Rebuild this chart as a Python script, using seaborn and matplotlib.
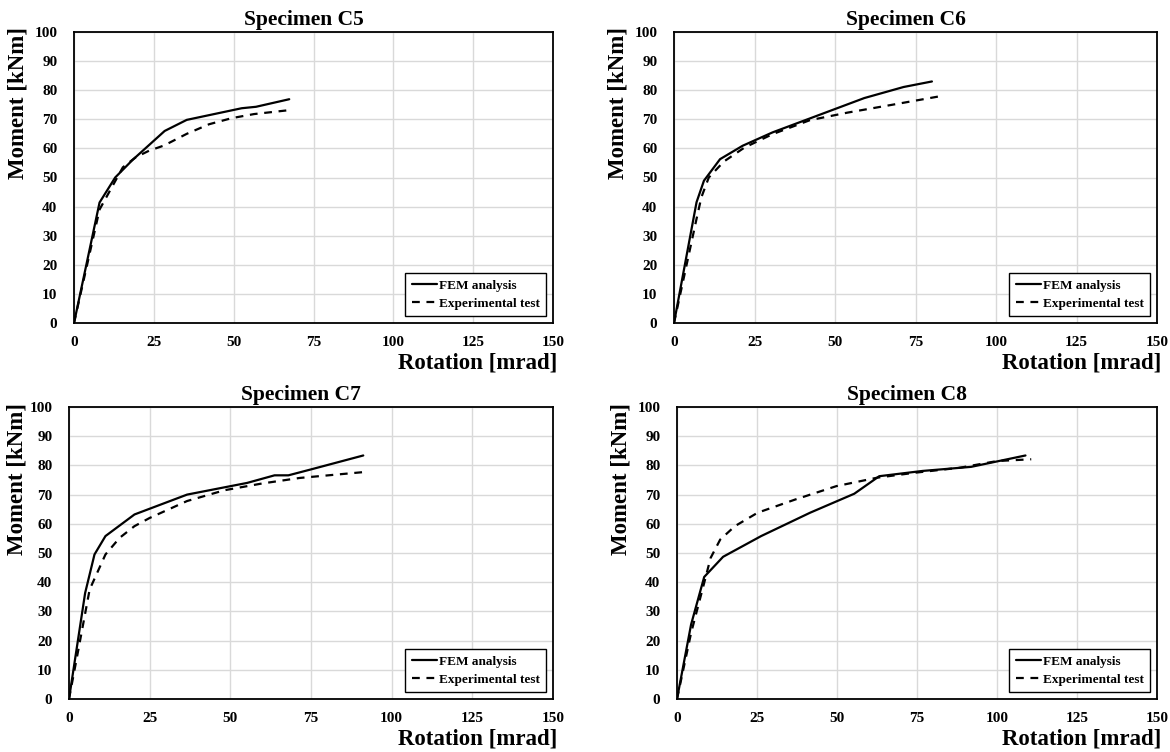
import matplotlib
matplotlib.use("Agg")
import matplotlib.pyplot as plt
import seaborn as sns
import pandas as pd

# ---- data ----
c5_fem_rot = [0, 8.0, 12.9, 18.3, 28.4, 35.3, 52.5, 57.0, 67.4]
c5_fem_mom = [0, 41.4, 50.0, 56.0, 66.0, 69.8, 73.8, 74.3, 76.9]
c5_exp_rot = [0, 8.0, 15.3, 19.4, 23.5, 28.2, 35.3, 42.3, 49.4, 56.4, 67.0]
c5_exp_mom = [0, 39.0, 53.5, 57.0, 59.2, 61.0, 65.0, 68.3, 70.4, 71.8, 73.1]

c6_fem_rot = [0, 7.0, 9.3, 14.3, 21.3, 30.6, 42.2, 59.1, 71.3, 80.1]
c6_fem_mom = [0, 41.5, 48.9, 56.3, 60.9, 65.5, 70.3, 77.3, 81.1, 83.0]
c6_exp_rot = [0, 7.0, 8.5, 10.8, 15.5, 21.9, 30.6, 42.2, 53.9, 67.8, 83.0]
c6_exp_mom = [0, 35.8, 43.2, 50.0, 55.5, 60.3, 64.9, 69.7, 72.3, 75.0, 78.0]

c7_fem_rot = [0, 5.0, 7.9, 11.3, 20.3, 36.6, 55.2, 63.7, 68.0, 74.9, 91.2]
c7_fem_mom = [0, 36.3, 49.5, 55.8, 63.2, 70.0, 74.0, 76.6, 76.6, 78.6, 83.4]
c7_exp_rot = [0, 2.9, 6.4, 11.3, 15.7, 20.3, 25.0, 36.6, 48.2, 59.8, 71.5, 91.2]
c7_exp_mom = [0, 16.9, 37.5, 49.5, 55.2, 59.2, 62.0, 67.8, 71.5, 73.8, 75.7, 77.7]

c8_fem_rot = [0, 4.4, 8.5, 14.4, 26.3, 41.6, 55.4, 63.2, 76.7, 91.9, 108.9]
c8_fem_mom = [0, 25.5, 41.8, 48.7, 55.8, 63.8, 70.3, 76.3, 78.1, 79.5, 83.4]
c8_exp_rot = [0, 4.4, 8.5, 10.5, 13.5, 18.1, 25.2, 36.9, 49.8, 62.6, 74.4, 88.4, 100.1, 110.7]
c8_exp_mom = [0, 22.6, 39.8, 48.3, 54.6, 59.2, 63.8, 68.3, 72.9, 75.8, 77.5, 79.2, 81.5, 82.1]

specimens = ["Specimen C5", "Specimen C6", "Specimen C7", "Specimen C8"]
series_names = ["FEM analysis", "Experimental test"]
x_ticks = [0, 25, 50, 75, 100, 125, 150]
y_ticks = [0, 10, 20, 30, 40, 50, 60, 70, 80, 90, 100]

curves = {
    "Specimen C5": (c5_fem_rot, c5_fem_mom, c5_exp_rot, c5_exp_mom),
    "Specimen C6": (c6_fem_rot, c6_fem_mom, c6_exp_rot, c6_exp_mom),
    "Specimen C7": (c7_fem_rot, c7_fem_mom, c7_exp_rot, c7_exp_mom),
    "Specimen C8": (c8_fem_rot, c8_fem_mom, c8_exp_rot, c8_exp_mom),
}

sns.set_theme(style="whitegrid")
plt.rcParams["font.family"] = ["Liberation Serif", "DejaVu Serif"]
plt.rcParams["font.weight"] = "bold"
plt.rcParams["text.color"] = "black"
plt.rcParams["axes.labelcolor"] = "black"
plt.rcParams["xtick.color"] = "black"
plt.rcParams["ytick.color"] = "black"

W, H = 1170, 752
fig = plt.figure(figsize=(W / 100, H / 100), dpi=100)
fig.patch.set_facecolor("white")

# pixel boxes: left, right, top, bottom
boxes = [(74, 553, 32, 323), (674, 1157, 32, 323),
         (69, 553, 407, 699), (677, 1157, 407, 699)]

for name, (l, r, t, b) in zip(specimens, boxes):
    ax = fig.add_axes([l / W, 1 - b / H, (r - l) / W, (b - t) / H])
    fr, fm, er, em = curves[name]
    df = pd.DataFrame({
        "rot": list(fr) + list(er),
        "mom": list(fm) + list(em),
        "series": [series_names[0]] * len(fr) + [series_names[1]] * len(er),
    })
    sns.lineplot(data=df, x="rot", y="mom", style="series", color="black",
                 dashes={series_names[0]: "", series_names[1]: (3.5, 3)},
                 sort=False, estimator=None, linewidth=1.6, ax=ax)
    ax.set_xlim(0, 150)
    ax.set_ylim(0, 100)
    ax.set_xticks(x_ticks)
    ax.set_yticks(y_ticks)
    ax.grid(True, color="#d9d9d9", linewidth=1.0)
    for s in ax.spines.values():
        s.set_color("black")
        s.set_linewidth(1.3)
        s.set_visible(True)
    ax.tick_params(axis="x", length=0, pad=9, labelsize=11, colors="black")
    ax.tick_params(axis="y", length=0, pad=12, labelsize=11, colors="black")
    for lab in ax.get_xticklabels() + ax.get_yticklabels():
        lab.set_fontweight("bold")
    ax.set_title(name, fontsize=15.5, fontweight="bold", pad=5, x=0.48, color="black")
    ax.set_xlabel("Rotation [mrad]", fontsize=16.5, fontweight="bold")
    ax.xaxis.label.set_ha("right")
    ax.xaxis.set_label_coords(1.01, -0.1)
    ax.set_ylabel("Moment [kNm]", fontsize=16.5, fontweight="bold")
    ax.yaxis.set_label_coords(-0.094 if l > 70 else -0.086, 0.755)
    leg = ax.legend(loc="lower right", frameon=True, fancybox=False,
                    edgecolor="black", framealpha=1, handlelength=1.9,
                    handletextpad=0.15, borderaxespad=0.5, labelspacing=0.45,
                    borderpad=0.5, prop={"weight": "bold", "size": 9.5})
    leg.get_frame().set_linewidth(1.0)

fig.savefig("out.png", dpi=100, facecolor="white")
